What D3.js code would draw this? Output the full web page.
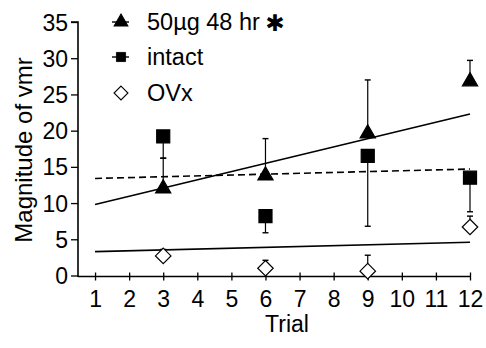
<!DOCTYPE html>
<html><head><meta charset="utf-8">
<script src="https://cdn.jsdelivr.net/npm/d3@7"></script>
<style>body{margin:0;background:#fff}svg{display:block}text{font-family:"Liberation Sans",Arial,sans-serif;fill:#000}</style>
</head><body>
<svg id="c" width="486" height="348"></svg>
<script>
const trials = [3, 6, 9, 12];
const xTicks = [1,2,3,4,5,6,7,8,9,10,11,12];
const yTicks = [0,5,10,15,20,25,30,35];
const seriesNames = ["50µg 48 hr", "intact", "OVx"];
const triMean = [12.0, 13.8, 19.6, 26.8];
const triErrHi = [16.2, 18.9, 27.0, 29.7];
const sqMean = [19.2, 8.2, 16.5, 13.5];
const sqErrLo = [16.2, 5.9, 6.8, 8.8];
const diaMean = [2.7, 1.0, 0.6, 6.7];
const diaErrHi = [3.6, 2.1, 2.8, 8.2];
const triFit = [[1, 9.8], [12, 22.3]];
const sqFit = [[1, 13.4], [12, 14.7]];
const diaFit = [[1, 3.3], [12, 4.6]];

const svg = d3.select("#c");
const x = d3.scaleLinear().domain([0.5, 12]).range([78, 470]);
const y = d3.scaleLinear().domain([0, 35]).range([275.5, 22]);

// axes
const yAx = svg.append("g").attr("transform","translate(78,0)")
  .call(d3.axisLeft(y).tickValues(yTicks).tickSize(7).tickPadding(3).tickFormat(d3.format("d")));
yAx.select(".domain").attr("stroke-width",1.6).attr("d", `M-7,${y(35)}H0V${y(0)+1.5}`);
yAx.selectAll(".tick line").attr("stroke-width",1.3);
yAx.selectAll("text").style("font-size","23px").attr("dy","0.35em");

const xAx = svg.append("g").attr("transform",`translate(0,${y(0)+1})`)
  .call(d3.axisBottom(x).tickValues(xTicks).tickSize(4).tickPadding(10));
xAx.select(".domain").attr("stroke-width",1.6).attr("d", `M${x(0.5)},0H${x(12)}`);
xAx.selectAll(".tick line").attr("y1",-4).attr("stroke-width",1.3);
xAx.selectAll("text").style("font-size","23px");

// fit lines
const line = d3.line().x(d=>x(d[0])).y(d=>y(d[1]));
svg.append("path").attr("d", line(triFit)).attr("stroke","#000").attr("stroke-width",1.6).attr("fill","none");
svg.append("path").attr("d", line(sqFit)).attr("stroke","#000").attr("stroke-width",1.6).attr("stroke-dasharray","7,4").attr("fill","none");
svg.append("path").attr("d", line(diaFit)).attr("stroke","#000").attr("stroke-width",1.6).attr("fill","none");

// error bars
function errBars(means, ends){
  trials.forEach((t,i)=>{
    svg.append("line").attr("x1",x(t)).attr("x2",x(t)).attr("y1",y(means[i])).attr("y2",y(ends[i]))
      .attr("stroke","#000").attr("stroke-width",1.2);
    svg.append("line").attr("x1",x(t)-3).attr("x2",x(t)+3).attr("y1",y(ends[i])).attr("y2",y(ends[i]))
      .attr("stroke","#000").attr("stroke-width",1.4);
  });
}
errBars(triMean, triErrHi);
errBars(sqMean, sqErrLo);
errBars(diaMean, diaErrHi);

// markers
const wideDiamond = {draw(ctx, size){ const r = Math.sqrt(size/2); ctx.moveTo(0,-r); ctx.lineTo(r,0); ctx.lineTo(0,r); ctx.lineTo(-r,0); ctx.closePath(); }};
const triSym = d3.symbol().type(d3.symbolTriangle).size(100);
const sqSym = d3.symbol().type(d3.symbolSquare).size(170);
const diaSym = d3.symbol().type(wideDiamond).size(120);
function markers(means, sym, fill){
  svg.selectAll(null).data(trials).enter().append("path")
    .attr("transform",(d,i)=>`translate(${x(d)},${y(means[i])})`)
    .attr("d", sym).attr("fill",fill).attr("stroke","#000").attr("stroke-width",1.2);
}
markers(sqMean, sqSym, "#000");
markers(diaMean, diaSym, "#fff");
markers(triMean, triSym, "#000");

// legend
const legY = [22, 57, 93];
const syms = [triSym, sqSym, diaSym];
const fills = ["#000","#000","#fff"];
seriesNames.forEach((n,i)=>{
  if(i<2) svg.append("line").attr("x1",112).attr("x2",129).attr("y1",legY[i]).attr("y2",legY[i]).attr("stroke","#000").attr("stroke-width",1.4);
  svg.append("path").attr("transform",`translate(121,${legY[i]}) scale(${i===1?0.7:0.9})`).attr("d",syms[i]).attr("fill",fills[i]).attr("stroke","#000").attr("stroke-width",1.2);
  svg.append("text").attr("x",147).attr("y",legY[i]+8).style("font-size","23.5px").text(n);
});
svg.append("text").attr("x",275).attr("y",23).attr("text-anchor","middle").attr("dominant-baseline","central")
  .style("font-family","DejaVu Sans").style("font-size","23px").text("✱");

// axis titles
svg.append("text").attr("transform","translate(32,150) rotate(-90)").attr("text-anchor","middle").style("font-size","24px").text("Magnitude of vmr");
svg.append("text").attr("x",287).attr("y",332).attr("text-anchor","middle").style("font-size","23px").text("Trial");
</script>
</body></html>
